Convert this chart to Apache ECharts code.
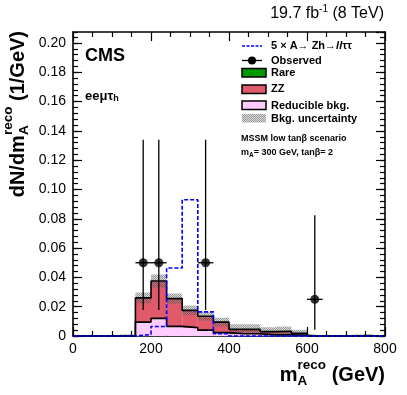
<!DOCTYPE html>
<html>
<head>
<meta charset="utf-8">
<script src="https://cdn.jsdelivr.net/npm/echarts@6/dist/echarts.min.js"></script>
<style>
html, body { margin: 0; padding: 0; background: #fff; }
#chart { width: 407px; height: 395px; }
</style>
</head>
<body>
<div id="chart"></div>
<script>
var FONT = '"Liberation Sans", Arial, Helvetica, sans-serif';

// 40 GeV bins, values in 1/GeV
var binEdges  = [0, 40, 80, 120, 160, 200, 240, 280, 320, 360, 400, 440, 480, 520, 560, 600, 640, 680, 720, 760, 800];
var reducible = [0, 0, 0, 0, 0.0095, 0.012, 0.0066, 0.0057, 0.004, 0.0023, 0.0015, 0.0015, 0.0008, 0.0008, 0.0005, 0, 0, 0, 0, 0];
var zz        = [0, 0, 0, 0.0003, 0.0163, 0.0253, 0.0187, 0.0116, 0.0093, 0.007, 0.0028, 0.0028, 0.002, 0.0022, 0.0012, 0, 0, 0, 0.0003, 0];
var rare      = [0, 0, 0, 0, 0.0002, 0.0002, 0.0002, 0.0002, 0.0002, 0.0002, 0.0002, 0.0002, 0.0002, 0.0002, 0.0001, 0, 0, 0, 0, 0];
var bkgErr    = [0, 0, 0, 0.0008, 0.0037, 0.0045, 0.0035, 0.0033, 0.003, 0.003, 0.0035, 0.0035, 0.003, 0.0032, 0.0024, 0, 0, 0, 0.0008, 0];
var signal    = [0, 0, 0, 0, 0.001, 0.0065, 0.0464, 0.093, 0.0165, 0.0015, 0, 0, 0, 0, 0, 0, 0, 0, 0, 0];

// observed data points
var obsMass  = [180, 220, 340, 620];
var obsValue = [0.05, 0.05, 0.05, 0.025];
var obsLow   = [0.0178, 0.0178, 0.0178, 0.0043];
var obsHigh  = [0.134, 0.134, 0.134, 0.0825];
var obsHalfWidth = 20;

var nBins = binEdges.length - 1;
var zeros = [], zzTop = [], total = [];
for (var i = 0; i < nBins; i++) {
    zeros.push(0);
    zzTop.push(reducible[i] + zz[i]);
    total.push(reducible[i] + zz[i] + rare[i]);
}

function rects(base, top) {
    var out = [];
    for (var i = 0; i < nBins; i++) {
        if (top[i] > base[i]) out.push([binEdges[i], binEdges[i + 1], base[i], top[i]]);
    }
    return out;
}
function steps(vals) {
    var pts = [];
    for (var i = 0; i < nBins; i++) pts.push([binEdges[i], vals[i]]);
    pts.push([binEdges[nBins], vals[nBins - 1]]);
    return pts;
}
var band = [];
for (var i = 0; i < nBins; i++) {
    if (bkgErr[i] > 0) band.push([binEdges[i], binEdges[i + 1], Math.max(0, total[i] - bkgErr[i]), total[i] + bkgErr[i]]);
}
var obsData = [];
for (var i = 0; i < obsMass.length; i++) obsData.push([obsMass[i], obsValue[i], obsLow[i], obsHigh[i]]);

// dotted gray fill for the uncertainty band
var pat = document.createElement('canvas');
pat.width = 2; pat.height = 2;
var pctx = pat.getContext('2d');
pctx.fillStyle = 'rgba(70,70,70,0.55)';
pctx.fillRect(0, 0, 1, 1); pctx.fillRect(1, 1, 1, 1);
pctx.fillStyle = 'rgba(150,150,150,0.35)';
pctx.fillRect(1, 0, 1, 1); pctx.fillRect(0, 1, 1, 1);
var bandFill = { image: pat, repeat: 'repeat' };

var RED = '#e05a6b', PINK = '#ffccff', GREEN = '#009a00';

function rectRender(fill) {
    return function (params, api) {
        var a = api.coord([api.value(0), api.value(3)]);
        var b = api.coord([api.value(1), api.value(2)]);
        return {
            type: 'rect',
            shape: { x: a[0], y: a[1], width: b[0] - a[0], height: b[1] - a[1] },
            style: { fill: fill }
        };
    };
}
function errRender(params, api) {
    var x = api.value(0), y = api.value(1);
    var lo = api.coord([x, api.value(2)]), hi = api.coord([x, api.value(3)]);
    var l = api.coord([x - obsHalfWidth, y]), r = api.coord([x + obsHalfWidth, y]);
    return {
        type: 'group',
        children: [
            { type: 'line', shape: { x1: lo[0], y1: lo[1], x2: hi[0], y2: hi[1] }, style: { stroke: '#000', lineWidth: 1.3 } },
            { type: 'line', shape: { x1: l[0], y1: l[1], x2: r[0], y2: r[1] }, style: { stroke: '#000', lineWidth: 1.3 } }
        ]
    };
}

// text measuring for the composed titles
var mctx = document.createElement('canvas').getContext('2d');
function tw(text, size, weight) {
    mctx.font = (weight || 'normal') + ' ' + size + 'px ' + FONT;
    return mctx.measureText(text).width;
}
function txt(x, y, text, size, weight, extra) {
    var st = {
        text: text, fontSize: size, fontFamily: FONT, fontWeight: weight || 'bold', fill: '#000',
        align: 'left', verticalAlign: 'middle', textAlign: 'left', textVerticalAlign: 'middle'
    };
    if (extra) for (var k in extra) st[k] = extra[k];
    return { type: 'text', x: x, y: y, z: 100, style: st };
}

// axis titles: m_A^reco
var BIG = 20, SM = 13.5;
function massTitle(pre, post) {
    var w1 = tw(pre, BIG, 'bold'), w2 = Math.max(tw('reco', SM, 'bold'), tw('A', SM, 'bold')), w3 = tw(post, BIG, 'bold');
    return {
        width: w1 + w2 + w3,
        children: [
            txt(0, 0, pre, BIG), txt(w1, -10, 'reco', SM), txt(w1, 6, 'A', SM), txt(w1 + w2, 0, post, BIG)
        ]
    };
}
var xt = massTitle('m', ' (GeV)');
var yt = massTitle('dN/dm', ' (1/GeV)');

var lumiA = '19.7 fb', lumiB = ' (8 TeV)';
var lw = tw(lumiA, 16) + tw('-1', 10) + tw(lumiB, 16);
var lx = 384 - lw;

var subRich = { sub: { fontSize: 9, fontWeight: 'bold', fontFamily: FONT, verticalAlign: 'bottom', lineHeight: 6 } };

var LX = 271;
var graphics = [
    { type: 'group', x: 385 - xt.width, y: 375, children: xt.children },
    { type: 'group', x: 18, y: 31 + yt.width, rotation: Math.PI / 2, children: yt.children },
    txt(lx, 14, lumiA, 16, 'normal'),
    txt(lx + tw(lumiA, 16), 9, '-1', 10, 'normal'),
    txt(lx + tw(lumiA, 16) + tw('-1', 10), 14, lumiB, 16, 'normal'),
    txt(85, 56, 'CMS', 18),
    txt(85, 96, 'eeμτ{sub|h}', 13, 'bold', { rich: subRich, lineHeight: 15 }),
    // legend
    { type: 'line', z: 100, shape: { x1: 242, y1: 46, x2: 262, y2: 46 }, style: { stroke: '#0000ff', lineWidth: 1.5, lineDash: [3, 1.5] } },
    txt(LX, 46, '5 × A→ Zh→{it|ll}ττ', 11, 'bold', { rich: { it: { fontStyle: 'italic', fontWeight: 'bold', fontSize: 11, fontFamily: FONT } } }),
    { type: 'line', z: 100, shape: { x1: 242, y1: 60.5, x2: 262, y2: 60.5 }, style: { stroke: '#000', lineWidth: 1.3 } },
    { type: 'circle', z: 100, shape: { cx: 252, cy: 60.5, r: 4 }, style: { fill: '#000' } },
    txt(LX, 60.5, 'Observed', 11),
    { type: 'rect', z: 100, shape: { x: 242, y: 68.5, width: 24, height: 8.5 }, style: { fill: GREEN, stroke: '#000', lineWidth: 1.5 } },
    txt(LX, 73, 'Rare', 11),
    { type: 'rect', z: 100, shape: { x: 242, y: 85, width: 24, height: 8.5 }, style: { fill: RED, stroke: '#000', lineWidth: 1.5 } },
    txt(LX, 89, 'ZZ', 11),
    { type: 'rect', z: 100, shape: { x: 242, y: 101, width: 24, height: 8.5 }, style: { fill: PINK, stroke: '#000', lineWidth: 1.5 } },
    txt(LX, 105.5, 'Reducible bkg.', 11),
    { type: 'rect', z: 100, shape: { x: 242, y: 114, width: 24, height: 8.5 }, style: { fill: bandFill } },
    txt(LX, 118.5, 'Bkg. uncertainty', 11),
    txt(241, 139, 'MSSM low tanβ scenario', 9),
    txt(241, 153, 'm{sub|A}= 300 GeV, tanβ= 2', 9, 'bold', { rich: { sub: { fontSize: 6.5, fontWeight: 'bold', fontFamily: FONT, verticalAlign: 'bottom', lineHeight: 5 } }, lineHeight: 11 })
];

var axLine = { onZero: false, lineStyle: { color: '#000', width: 1.6 } };
var tickLine = { color: '#000', width: 1.2 };
function xAx(pos, labels) {
    return {
        type: 'value', min: 0, max: 800, interval: 200, position: pos,
        axisLine: axLine,
        axisTick: { inside: true, length: 9, lineStyle: tickLine },
        minorTick: { show: true, splitNumber: 4, length: 5, lineStyle: tickLine },
        axisLabel: { show: labels, color: '#000', fontSize: 14, fontFamily: FONT, margin: 6 },
        splitLine: { show: false }
    };
}
var YMAX = 0.2075;
function yAx(pos, labels) {
    return {
        type: 'value', min: 0, max: YMAX, interval: 0.02, position: pos,
        axisLine: axLine,
        axisTick: { inside: true, length: 9, lineStyle: tickLine },
        axisLabel: {
            show: labels, color: '#000', fontSize: 14, fontFamily: FONT, margin: 7, showMaxLabel: false,
            formatter: function (v) { return v === 0 ? '0' : v.toFixed(2); }
        },
        splitLine: { show: false }
    };
}
function yMinor(pos) {
    return {
        type: 'value', min: 0, max: YMAX, interval: 0.004, position: pos,
        axisLine: { show: false, onZero: false },
        axisTick: { inside: true, length: 5, lineStyle: tickLine },
        axisLabel: { show: false },
        splitLine: { show: false }
    };
}

var chart = echarts.init(document.getElementById('chart'));
chart.setOption({
    animation: false,
    backgroundColor: '#fff',
    grid: { left: 73, right: 22, top: 32, bottom: 59 },
    xAxis: [xAx('bottom', true), xAx('top', false)],
    yAxis: [yAx('left', true), yAx('right', false), yMinor('left'), yMinor('right')],
    graphic: graphics,
    series: [
        { type: 'custom', name: 'Reducible bkg.', renderItem: rectRender(PINK), data: rects(zeros, reducible), encode: { x: [0, 1], y: [2, 3] } },
        { type: 'custom', name: 'ZZ', renderItem: rectRender(RED), data: rects(reducible, zzTop), encode: { x: [0, 1], y: [2, 3] } },
        { type: 'custom', name: 'Rare', renderItem: rectRender(GREEN), data: rects(zzTop, total), encode: { x: [0, 1], y: [2, 3] } },
        { type: 'custom', name: 'Bkg. uncertainty', renderItem: rectRender(bandFill), data: band, encode: { x: [0, 1], y: [2, 3] } },
        { type: 'line', step: 'end', symbol: 'none', clip: false, data: steps(reducible), lineStyle: { color: '#000', width: 1.6 } },
        { type: 'line', step: 'end', symbol: 'none', clip: false, data: steps(total), lineStyle: { color: '#000', width: 1.6 } },
        { type: 'line', name: 'signal', step: 'end', symbol: 'none', clip: false, data: steps(signal), lineStyle: { color: '#0000ff', width: 1.6, type: [4, 2] } },
        { type: 'custom', name: 'Observed', renderItem: errRender, data: obsData, encode: { x: 0, y: [1, 2, 3] }, z: 5 },
        { type: 'scatter', data: obsData.map(function (d) { return [d[0], d[1]]; }), symbolSize: 9, itemStyle: { color: '#000' }, z: 6 }
    ]
});
</script>
</body>
</html>
